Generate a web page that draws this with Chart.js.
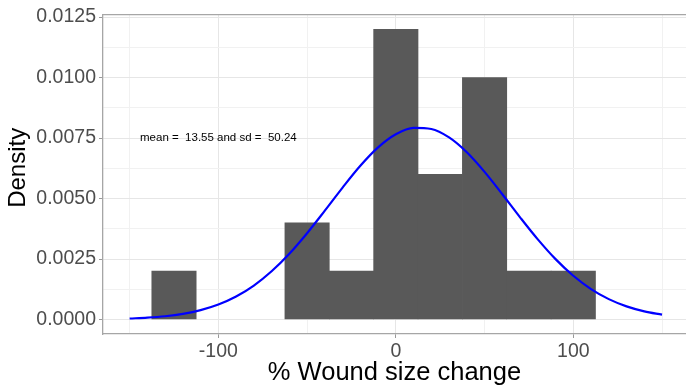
<!DOCTYPE html>
<html><head><meta charset="utf-8">
<script src="https://cdn.jsdelivr.net/npm/chart.js@4.4.1/dist/chart.umd.min.js"></script>
<style>html,body{margin:0;padding:0;background:#fff;overflow:hidden}#wrap{width:686px;height:386px;position:relative}</style>
</head><body><div id="wrap"><canvas id="c" width="686" height="386"></canvas></div>
<script>
// Histogram bins (centres, width 25) and densities
const binCenters = [-125, -50, -25, 0, 25, 50, 75, 100];
const binDensity = [0.002, 0.004, 0.002, 0.012, 0.006, 0.010, 0.002, 0.002];
// Normal curve (mean 13.55, sd 50.24) values
const curveX = [-150,-140,-130,-120,-110,-100,-90,-80,-70,-60,-50,-40,-30,-20,-10,0,10,20,30,40,50,60,70,80,90,100,110,120,130,140,150];
const curveY = [0.0000397,0.0000744,0.0001340,0.0002320,0.0003860,0.0006174,0.0009492,0.0014027,0.0019922,0.0027193,0.0035680,0.0044992,0.0054538,0.0063538,0.0071146,0.0076571,0.0079209,0.0078755,0.0075262,0.0069131,0.0061033,0.0051789,0.0042240,0.0033112,0.0024948,0.0018069,0.0012576,0.0008413,0.0005411,0.0003344,0.0001986];
const xTicks = [-150, -100, -50, 0, 50, 100, 150];
const xTickLabels = ['', '-100', '', '0', '', '100', ''];
const yTicks = [0, 0.00125, 0.0025, 0.00375, 0.005, 0.00625, 0.0075, 0.00875, 0.01, 0.01125, 0.0125];
const yTickLabels = ['0.0000', '', '0.0025', '', '0.0050', '', '0.0075', '', '0.0100', '', '0.0125'];
const annotationText = 'mean =  13.55 and sd =  50.24';
const annotationX = -100;
const annotationY = 0.0075;
const xTitle = '% Wound size change';
const yTitle = 'Density';

const FONT = "'Liberation Sans', Arial, sans-serif";
const BORDER = '#a6a6a6';

function labelFor(list, labels, v) {
  const i = list.findIndex(t => Math.abs(t - v) < 1e-9);
  return i >= 0 ? labels[i] : '';
}

const extras = {
  id: 'extras',
  afterDraw(chart) {
    const {ctx, chartArea, scales} = chart;
    ctx.save();
    ctx.strokeStyle = BORDER;
    ctx.lineWidth = 1.3;
    ctx.beginPath();
    ctx.moveTo(chartArea.left, chartArea.top);
    ctx.lineTo(chartArea.right, chartArea.top);
    ctx.stroke();
    ctx.fillStyle = '#000';
    ctx.font = "11.5px " + FONT;
    ctx.textAlign = 'center';
    ctx.textBaseline = 'middle';
    ctx.fillText(annotationText, scales.x.getPixelForValue(annotationX), scales.y.getPixelForValue(annotationY));
    // y axis title
    ctx.translate(25, (chartArea.top + chartArea.bottom) / 2 - 6.5);
    ctx.rotate(-Math.PI / 2);
    ctx.font = "24px " + FONT;
    ctx.textAlign = 'center';
    ctx.textBaseline = 'alphabetic';
    ctx.fillText(yTitle, 0, 0);
    ctx.restore();
  }
};

new Chart(document.getElementById('c'), {
  type: 'bar',
  data: {
    datasets: [
      {
        type: 'line',
        data: curveX.map((x, i) => ({x: x, y: curveY[i]})),
        borderColor: '#0000ff',
        borderWidth: 2.2,
        pointRadius: 0,
        fill: false,
        cubicInterpolationMode: 'monotone',
        order: 1
      },
      {
        type: 'bar',
        data: binCenters.map((x, i) => ({x: x, y: binDensity[i]})),
        backgroundColor: '#595959',
        borderWidth: 0,
        barPercentage: 1,
        categoryPercentage: 1,
        order: 2
      }
    ]
  },
  options: {
    responsive: false,
    animation: false,
    devicePixelRatio: 1,
    layout: {padding: {top: 13, left: 0, right: 0, bottom: 0}},
    plugins: {legend: {display: false}, tooltip: {enabled: false}},
    scales: {
      x: {
        type: 'linear',
        min: -165,
        max: 163.5,
        offset: false,
        afterFit: s => { s.height = 52; },
        afterBuildTicks: s => { s.ticks = xTicks.map(v => ({value: v})); },
        ticks: {
          autoSkip: false, maxRotation: 0, padding: 2,
          color: '#4d4d4d', font: {family: FONT, size: 19.5},
          callback: v => labelFor(xTicks, xTickLabels, v)
        },
        grid: {
          offset: false,
          color: c => labelFor(xTicks, xTickLabels, c.tick ? c.tick.value : NaN) ? '#e6e6e6' : '#f1f1f1',
          lineWidth: 1,
          tickLength: 4,
          tickColor: c => labelFor(xTicks, xTickLabels, c.tick ? c.tick.value : NaN) ? '#999999' : 'rgba(0,0,0,0)'
        },
        border: {display: true, color: BORDER, width: 1.3},
        title: {display: true, text: xTitle, color: '#000', padding: 0, font: {family: FONT, size: 25.5, lineHeight: 1}}
      },
      y: {
        type: 'linear',
        min: -0.0006,
        max: 0.0126,
        afterFit: s => { s.width = 103; },
        afterBuildTicks: s => { s.ticks = yTicks.map(v => ({value: v})); },
        ticks: {
          autoSkip: false, padding: 3,
          color: '#4d4d4d', font: {family: FONT, size: 19.5},
          callback: v => labelFor(yTicks, yTickLabels, v)
        },
        grid: {
          color: c => labelFor(yTicks, yTickLabels, c.tick ? c.tick.value : NaN) ? '#e6e6e6' : '#f1f1f1',
          lineWidth: 1,
          tickLength: 4,
          tickColor: c => labelFor(yTicks, yTickLabels, c.tick ? c.tick.value : NaN) ? '#999999' : 'rgba(0,0,0,0)'
        },
        border: {display: true, color: BORDER, width: 1.3},
        title: {display: false}
      }
    }
  },
  plugins: [extras]
});
</script></body></html>
